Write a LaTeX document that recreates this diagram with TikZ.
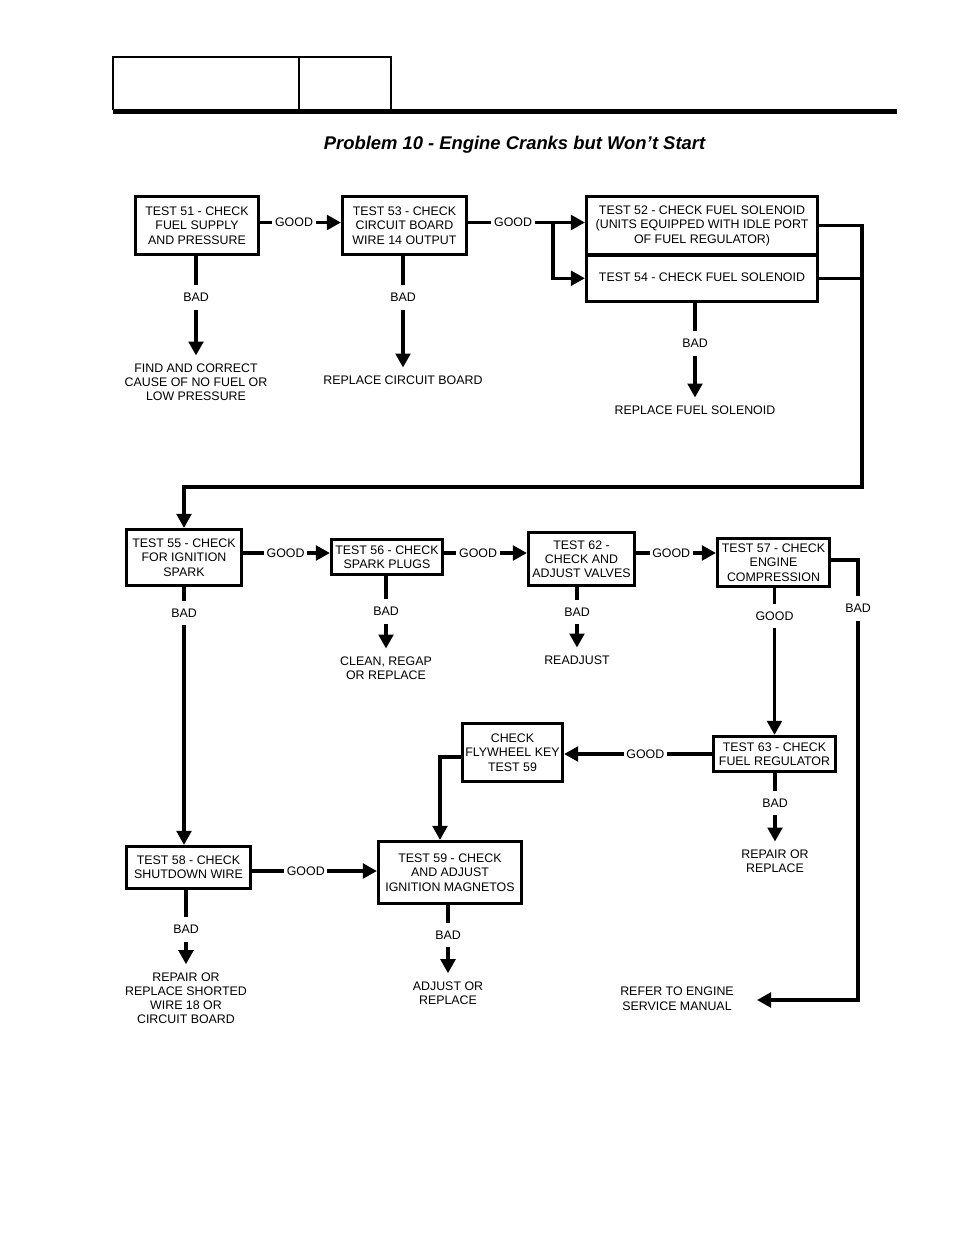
\documentclass[tikz,border=0pt]{standalone}
\usepackage{fontspec}
\setmainfont{Liberation Sans}
\usetikzlibrary{arrows.meta, positioning}
\newcommand{\chartfont}{\fontsize{9.3}{10.7}\selectfont}
\tikzset{
	testbox/.style={
			shape=rectangle,
			draw=black,
			line width=2.4pt,
			align=center,
			inner sep=0pt,
			font=\chartfont
		},
	outcome/.style={
			align=center,
			inner xsep=0pt,
			inner ysep=6pt,
			font=\chartfont
		},
	answer/.style={
			fill=white,
			inner xsep=2pt,
			inner ysep=6pt,
			font=\chartfont
		}
}
\tikzset{
	flowline/.style={line width=2.4pt},
	flowarrow/.style={flowline, -{Triangle[length=10.5pt,width=11pt]}}
}
\tikzset{
	titletext/.style={font=\fontsize{13.8}{16}\selectfont\bfseries\itshape}
}
\begin{document}
\begin{tikzpicture}[x=0.75pt, y=-0.75pt]
	\useasboundingbox (0,0) rectangle (954,1235);

	\draw[line width=1.1pt] (113,110) -- (113,57) -- (391,57) -- (391,110);
	\draw[line width=1.1pt] (299,57) -- (299,110);
	\draw[line width=3.75pt] (113,111) -- (897,111);

	\node[titletext] (title) at (514.5,145) {Problem 10 - Engine Cranks but Won’t Start};

	\node[testbox, minimum width=92.25pt, minimum height=43.5pt] (t51) at (197,225.5) {TEST 51 - CHECK\\FUEL SUPPLY\\AND PRESSURE};
	\node[testbox, minimum width=93pt, minimum height=43.5pt] (t53) at (404.5,225.5) {TEST 53 - CHECK\\CIRCUIT BOARD\\WIRE 14 OUTPUT};
	\node[testbox, minimum width=173.25pt, minimum height=43.9pt] (t52) at (702,225.75) {TEST 52 - CHECK FUEL SOLENOID\\(UNITS EQUIPPED WITH IDLE PORT\\OF FUEL REGULATOR)};
	\node[testbox, minimum width=173.25pt, minimum height=34.9pt] (t54) at (702,278.25) {\raisebox{1.5pt}{TEST 54 - CHECK FUEL SOLENOID}};

	\node[outcome, anchor=north] (fix51) at (196,355.5) {FIND AND CORRECT\\CAUSE OF NO FUEL OR\\LOW PRESSURE};
	\node[outcome, anchor=north] (fix53) at (403,367.5) {REPLACE CIRCUIT BOARD};
	\node[outcome, anchor=north] (fix52) at (695,397.5) {REPLACE FUEL SOLENOID};

	\node[testbox, minimum width=86.25pt, minimum height=42pt] (t55) at (184,557.5) {TEST 55 - CHECK\\FOR IGNITION\\SPARK};
	\node[testbox, minimum width=83.25pt, minimum height=26.25pt] (t56) at (387,557) {TEST 56 - CHECK\\SPARK PLUGS};
	\node[testbox, minimum width=79.5pt, minimum height=39.75pt] (t62) at (581.5,559) {TEST 62 -\\CHECK AND\\ADJUST VALVES};
	\node[testbox, minimum width=84pt, minimum height=36pt] (t57) at (773.5,562.5) {TEST 57 - CHECK\\ENGINE\\COMPRESSION};

	\node[outcome, anchor=north] (fix56) at (386,648.5) {CLEAN, REGAP\\OR REPLACE};
	\node[outcome, anchor=north] (fix62) at (577,647.5) {READJUST};

	\node[testbox, minimum width=75pt, minimum height=43.5pt] (fly) at (512.5,752.5) {CHECK\\FLYWHEEL KEY\\TEST 59};
	\node[testbox, minimum width=91.5pt, minimum height=26.25pt] (t63) at (774.5,754) {TEST 63 - CHECK\\FUEL REGULATOR};
	\node[outcome, anchor=north] (fix63) at (775,841.5) {REPAIR OR\\REPLACE};

	\node[testbox, minimum width=93pt, minimum height=31.5pt] (t58) at (188.5,867.5) {TEST 58 - CHECK\\SHUTDOWN WIRE};
	\node[testbox, minimum width=107.25pt, minimum height=46.5pt] (t59) at (450,872.5) {TEST 59 - CHECK\\AND ADJUST\\IGNITION MAGNETOS};

	\node[outcome, anchor=north] (fix58) at (186,964.2) {REPAIR OR\\REPLACE SHORTED\\WIRE 18 OR\\CIRCUIT BOARD};
	\node[outcome, anchor=north] (fix59) at (448,973.2) {ADJUST OR\\REPLACE};
	\node[outcome] (refer) at (677,998.7) {REFER TO ENGINE\\SERVICE MANUAL};

	\coordinate (row1) at (0,222.5);
	\coordinate (split) at (553,222.5);
	\coordinate (rturn) at (862,487);
	\coordinate (row2) at (0,553);
	\coordinate (bad57) at (858,560);
	\coordinate (rtip) at (757,1000);
	\coordinate (fk) at (440,757);
	\coordinate (row4) at (0,871);

	\draw[flowarrow] (t51.east |- row1) -- node[answer, pos=0.42] {GOOD} (t53.west |- row1);
	\draw[flowline] (t53.east |- row1) -- node[answer, pos=0.53] {GOOD} (split);
	\draw[flowarrow] (split) -- (t52.west |- split);
	\draw[flowarrow] (split) |- (t54.west);
	\draw[flowline] (t54.east) -- (t54.east -| rturn);
	\draw[flowarrow] (t52.east) -| (rturn) -| (t55.north);

	\draw[flowarrow] (t51.south -| fix51.north) -- node[answer, pos=0.415] {BAD} (fix51.north);
	\draw[flowarrow] (t53.south -| fix53.north) -- node[answer, pos=0.37] {BAD} (fix53.north);
	\draw[flowarrow] (t54.south -| fix52.north) -- node[answer, pos=0.43] {BAD} (fix52.north);

	\draw[flowarrow] (t55.east |- row2) -- node[answer, pos=0.49] {GOOD} (t56.west |- row2);
	\draw[flowarrow] (t56.east |- row2) -- node[answer, pos=0.41] {GOOD} (t62.west |- row2);
	\draw[flowarrow] (t62.east |- row2) -- node[answer, pos=0.44] {GOOD} (t57.west |- row2);
	\draw[flowarrow] (t55.south) -- node[answer, pos=0.10] {BAD} (t55.south |- t58.north);
	\draw[flowarrow] (t56.south -| fix56.north) -- node[answer, pos=0.49] {BAD} (fix56.north);
	\draw[flowarrow] (t62.south -| fix62.north) -- node[answer, pos=0.41] {BAD} (fix62.north);
	\draw[flowarrow] (t57.south -| t63.north) -- node[answer, pos=0.19] {GOOD} (t63.north);
	\draw[flowarrow] (t57.east |- bad57) -- (bad57) -- node[answer, pos=0.11] {BAD} (bad57 |- rtip) -- (rtip);

	\draw[flowarrow] (t63.west) -- node[answer, pos=0.45] {GOOD} (t63.west -| fly.east);
	\draw[flowarrow] (t63.south -| fix63.north) -- node[answer, pos=0.44] {BAD} (fix63.north);
	\draw[flowarrow] (fly.west |- fk) -- (fk) -- (fk |- t59.north);

	\draw[flowarrow] (t58.east |- row4) -- node[answer, pos=0.43] {GOOD} (t59.west |- row4);
	\draw[flowarrow] (t58.south -| fix58.north) -- node[answer, pos=0.53] {BAD} (fix58.north);
	\draw[flowarrow] (t59.south -| fix59.north) -- node[answer, pos=0.44] {BAD} (fix59.north);

\end{tikzpicture}
\end{document}
